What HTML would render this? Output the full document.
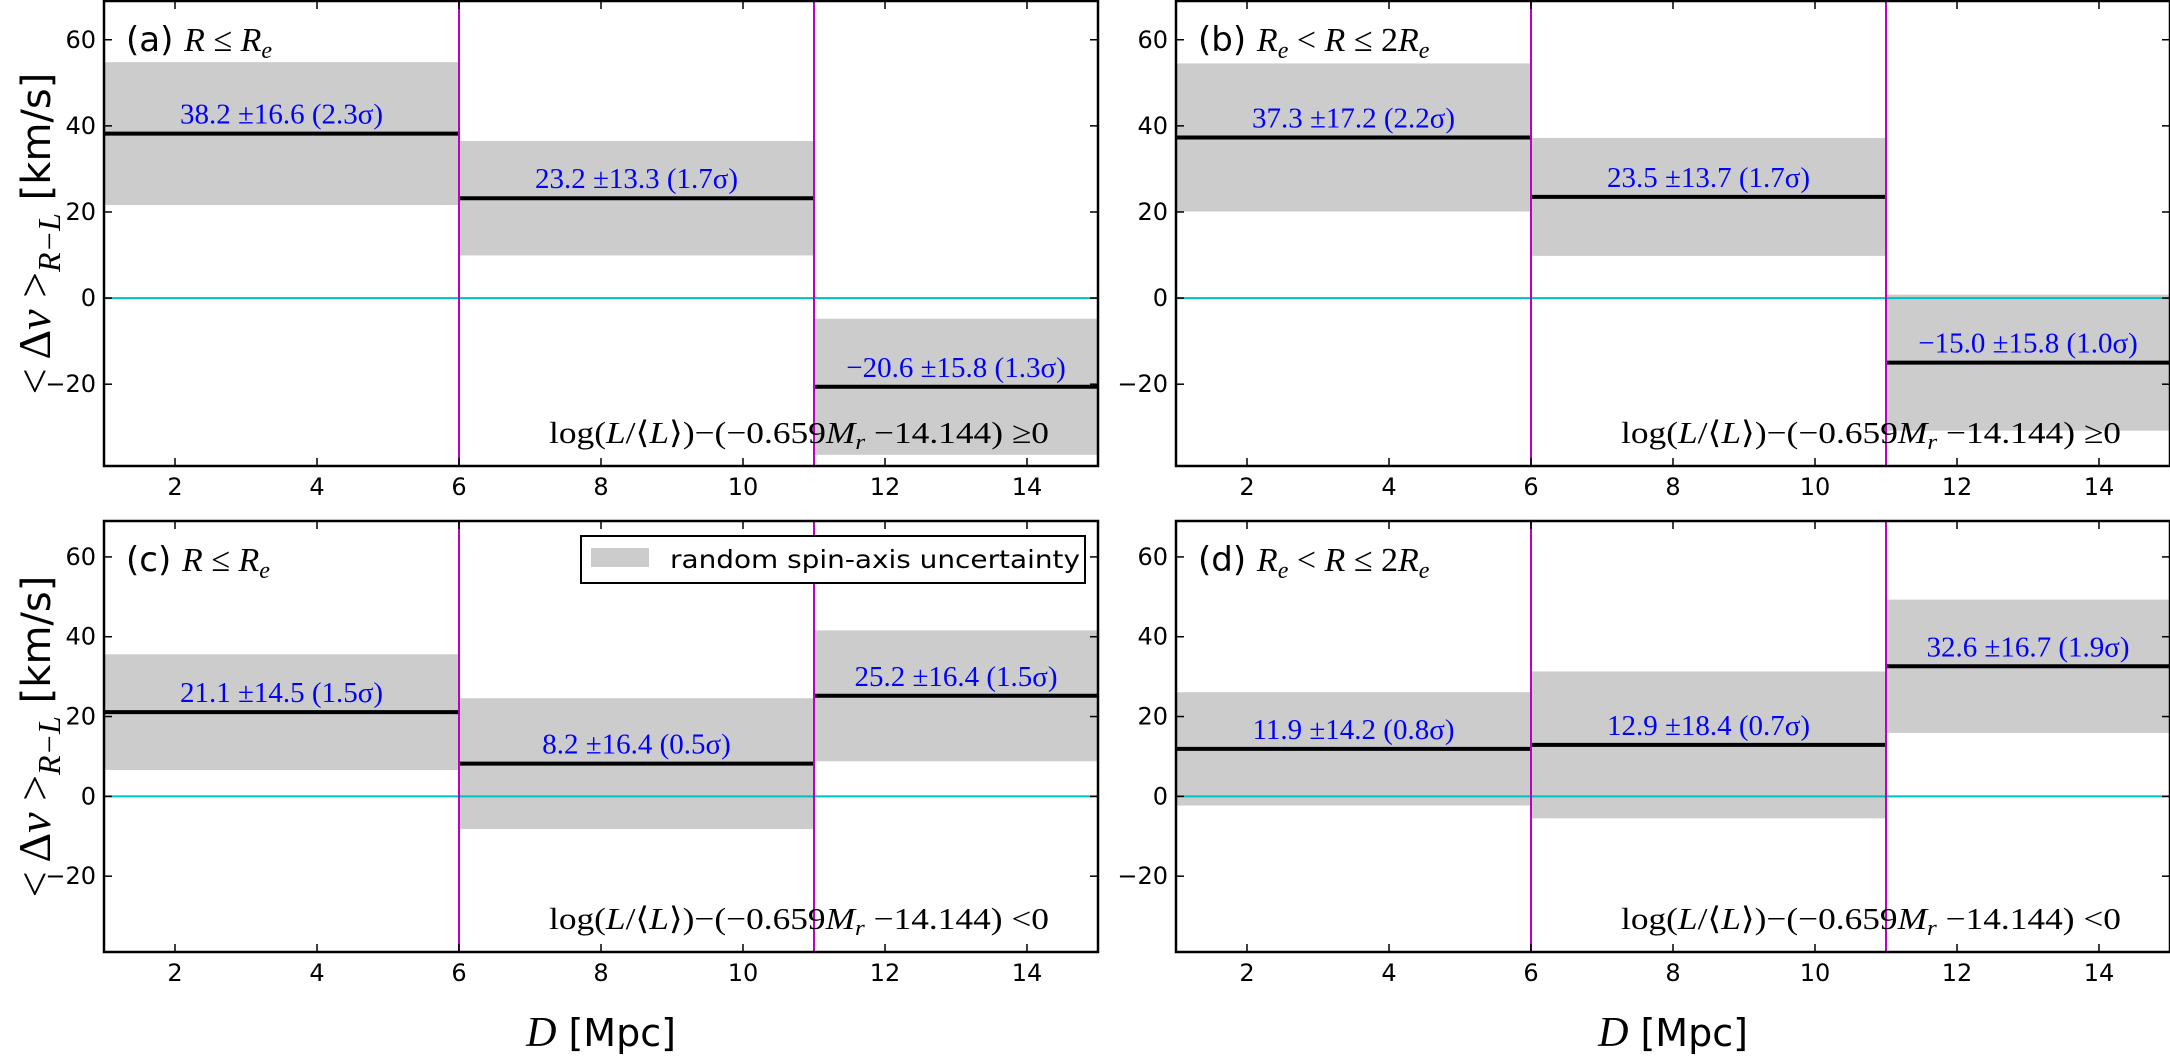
<!DOCTYPE html>
<html><head><meta charset="utf-8"><style>
html,body{margin:0;padding:0;background:#fff;}
svg{display:block;}
</style></head><body>
<svg id="chart" width="2170" height="1064" viewBox="0 0 2170 1064" xmlns="http://www.w3.org/2000/svg"></svg>
<script>
const binEdges = [1, 6, 11, 15];
const meansA = [38.2, 23.2, -20.6];
const errsA = [16.6, 13.3, 15.8];
const sigA = ["2.3", "1.7", "1.3"];
const meansB = [37.3, 23.5, -15.0];
const errsB = [17.2, 13.7, 15.8];
const sigB = ["2.2", "1.7", "1.0"];
const meansC = [21.1, 8.2, 25.2];
const errsC = [14.5, 16.4, 16.4];
const sigC = ["1.5", "0.5", "1.5"];
const meansD = [11.9, 12.9, 32.6];
const errsD = [14.2, 18.4, 16.7];
const sigD = ["0.8", "0.7", "1.9"];
const xTicks = [2, 4, 6, 8, 10, 12, 14];
const yTicks = [-20, 0, 20, 40, 60];
const xDomain = [1, 15];
const yDomain = [-39, 69];

const NS = "http://www.w3.org/2000/svg";
const svg = document.getElementById('chart');
function mk(tag, attrs, parent) {
  const e = document.createElementNS(NS, tag);
  for (const k in attrs) e.setAttribute(k, attrs[k]);
  (parent || svg).appendChild(e);
  return e;
}
const fmt = v => (v < 0 ? "\u2212" + Math.abs(v).toFixed(1) : v.toFixed(1));
const SERIF = 'Liberation Serif, serif';

const panels = [
  {id:'a', L:104, T:1, B:466, means:meansA, errs:errsA, sig:sigA, ge:true, left:true, bottom:false, range:'le'},
  {id:'b', L:1176, T:1, B:466, means:meansB, errs:errsB, sig:sigB, ge:true, left:false, bottom:false, range:'btw'},
  {id:'c', L:104, T:521, B:952, means:meansC, errs:errsC, sig:sigC, ge:false, left:true, bottom:true, range:'le', legend:true},
  {id:'d', L:1176, T:521, B:952, means:meansD, errs:errsD, sig:sigD, ge:false, left:false, bottom:true, range:'btw'}
];
const W = 994;

panels.forEach(p => {
  const g = mk('g', {});
  
  
  const xs = v => p.L + (v - xDomain[0]) / (xDomain[1] - xDomain[0]) * W;
  const ys = v => p.B - (v - yDomain[0]) / (yDomain[1] - yDomain[0]) * (p.B - p.T);
  for (let i = 0; i < p.means.length; i++) {
    const r = mk('rect', {x: xs(binEdges[i]), y: ys(p.means[i] + p.errs[i]), width: xs(binEdges[i+1]) - xs(binEdges[i]), height: ys(p.means[i] - p.errs[i]) - ys(p.means[i] + p.errs[i]), fill: '#cccccc'}, g);
    
    
  }
  const z = mk('line', {x1: p.L, x2: p.L + W, y1: ys(0), y2: ys(0), stroke: '#00bfbf', 'stroke-width': 2}, g);
  
  
  for (let i = 0; i < p.means.length; i++) {
    const l = mk('line', {x1: xs(binEdges[i]), x2: xs(binEdges[i+1]), y1: ys(p.means[i]), y2: ys(p.means[i]), stroke: '#000', 'stroke-width': 4}, g);
    
    
    const cx = (xs(binEdges[i]) + xs(binEdges[i+1])) / 2;
    const t = mk('text', {x: cx, y: ys(p.means[i]) - 10, 'text-anchor': 'middle', fill: '#0000ff', 'font-family': SERIF, 'font-size': 29}, g);
    t.textContent = fmt(p.means[i]) + " \u00b1" + p.errs[i].toFixed(1) + " (" + p.sig[i] + "\u03c3)";
    
    
  }
  [binEdges[1], binEdges[2]].forEach(v => {
    const l = mk('line', {x1: xs(v), x2: xs(v), y1: p.T, y2: p.B, stroke: '#bf00bf', 'stroke-width': 2}, g);
    
    
  });
  const f = mk('rect', {x: p.L, y: p.T, width: W, height: p.B - p.T, fill: 'none', stroke: '#000', 'stroke-width': 2.5}, g);
  
  
  xTicks.forEach(v => {
    mk('line', {x1: xs(v), x2: xs(v), y1: p.B, y2: p.B - 8, stroke: '#000', 'stroke-width': 1.5}, g);
    mk('line', {x1: xs(v), x2: xs(v), y1: p.T, y2: p.T + 8, stroke: '#000', 'stroke-width': 1.5}, g);
    const t = mk('text', {x: xs(v), y: p.B + 29, 'text-anchor': 'middle', 'font-family': 'DejaVu Sans, sans-serif', 'font-size': 24}, g);
    t.textContent = v;
    
    
  });
  yTicks.forEach(v => {
    mk('line', {x1: p.L, x2: p.L + 8, y1: ys(v), y2: ys(v), stroke: '#000', 'stroke-width': 1.5}, g);
    mk('line', {x1: p.L + W, x2: p.L + W - 8, y1: ys(v), y2: ys(v), stroke: '#000', 'stroke-width': 1.5}, g);
    const t = mk('text', {x: p.L - 8, y: ys(v) + 8, 'text-anchor': 'end', 'font-family': 'DejaVu Sans, sans-serif', 'font-size': 24}, g);
    t.textContent = v < 0 ? "\u2212" + Math.abs(v) : v;
    
    
  });
  const tt = mk('text', {x: p.L + 22, y: p.T + 50, 'font-family': 'DejaVu Sans, sans-serif', 'font-size': 34}, g);
  
  
  mk('tspan', {}, tt).textContent = '(' + p.id + ') ';
  const m = {'font-family': SERIF, 'font-style': 'italic', 'font-size': 34};
  const sub = {dy: 7, 'font-size': 24, 'font-family': SERIF, 'font-style': 'italic'};
  const op = {'font-family': SERIF, 'font-size': 34};
  if (p.range === 'le') {
    mk('tspan', m, tt).textContent = 'R';
    mk('tspan', op, tt).textContent = ' \u2264 ';
    mk('tspan', m, tt).textContent = 'R';
    mk('tspan', sub, tt).textContent = 'e';
  } else {
    mk('tspan', m, tt).textContent = 'R';
    mk('tspan', sub, tt).textContent = 'e';
    mk('tspan', Object.assign({dy: -7}, op), tt).textContent = ' < ';
    mk('tspan', m, tt).textContent = 'R';
    mk('tspan', op, tt).textContent = ' \u2264 2';
    mk('tspan', m, tt).textContent = 'R';
    mk('tspan', sub, tt).textContent = 'e';
  }
  const ct = mk('text', {x: p.L + 445, y: p.B - 23, 'font-family': SERIF, 'font-size': 31, textLength: 500, lengthAdjust: 'spacingAndGlyphs'}, g);
  
  
  mk('tspan', {}, ct).textContent = 'log(';
  mk('tspan', {'font-style': 'italic'}, ct).textContent = 'L';
  mk('tspan', {}, ct).textContent = '/\u27e8';
  mk('tspan', {'font-style': 'italic'}, ct).textContent = 'L';
  mk('tspan', {}, ct).textContent = '\u27e9)\u2212(\u22120.659';
  mk('tspan', {'font-style': 'italic'}, ct).textContent = 'M';
  mk('tspan', {'font-style': 'italic', dy: 6, 'font-size': 22}, ct).textContent = 'r';
  mk('tspan', {dy: -6}, ct).textContent = ' \u221214.144) ' + (p.ge ? '\u22650' : '<0');
  if (p.left) {
    const cy = (p.T + p.B) / 2;
    const yl = mk('text', {x: 0, y: 0, transform: 'translate(50,' + cy + ') rotate(-90)', 'text-anchor': 'middle', 'font-size': 46, 'font-family': SERIF}, g);
    
    
    mk('tspan', {}, yl).textContent = '< \u0394';
    mk('tspan', {'font-style': 'italic'}, yl).textContent = 'v';
    mk('tspan', {}, yl).textContent = ' >';
    mk('tspan', {'font-style': 'italic', 'font-size': 32, dy: 10}, yl).textContent = 'R\u2212L';
    mk('tspan', {dy: -10, 'font-family': 'DejaVu Sans, sans-serif', 'font-size': 40}, yl).textContent = ' [km/s]';
  }
  if (p.bottom) {
    const xl = mk('text', {x: p.L + W / 2, y: 1046, 'text-anchor': 'middle', 'font-size': 38, 'font-family': 'DejaVu Sans, sans-serif'}, g);
    
    
    mk('tspan', {'font-family': SERIF, 'font-style': 'italic', 'font-size': 42}, xl).textContent = 'D';
    mk('tspan', {}, xl).textContent = ' [Mpc]';
  }
  if (p.legend) {
    const lg = mk('g', {}, g);
    
    
    mk('rect', {x: 581, y: 536, width: 504, height: 47, fill: '#fff', stroke: '#000', 'stroke-width': 2}, lg);
    mk('rect', {x: 591, y: 548, width: 58, height: 19, fill: '#cccccc'}, lg);
    const lt = mk('text', {x: 670, y: 568, 'font-family': 'DejaVu Sans, sans-serif', 'font-size': 25, textLength: 410, lengthAdjust: 'spacingAndGlyphs'}, lg);
    lt.textContent = 'random spin-axis uncertainty';
    
    
  }
});
</script>
</body></html>
